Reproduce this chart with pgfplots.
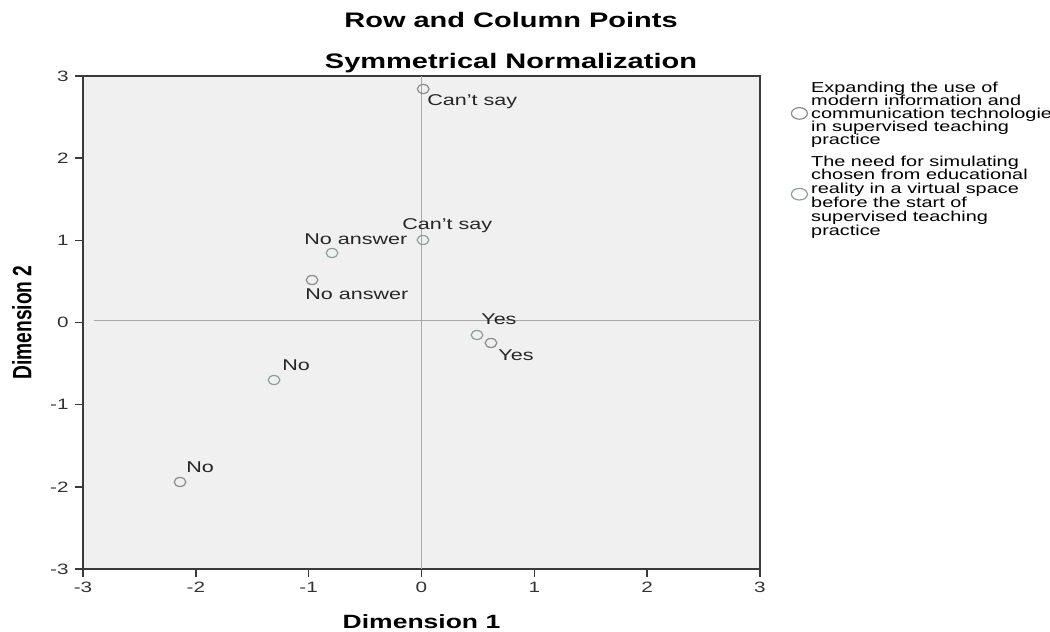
\documentclass[border=0pt]{standalone}
\usepackage{fontspec}
\setmainfont{Liberation Sans}[FakeStretch=1.38]
\newfontfamily\plainfont{Liberation Sans}
\usepackage{graphicx}
\usepackage{pgfplots}
\pgfplotsset{compat=1.18}
\definecolor{bgc}{HTML}{F0F0F0}
\definecolor{framec}{HTML}{3A3A3A}
\definecolor{refc}{HTML}{A8A8A8}
\definecolor{rowc}{HTML}{8C8C8C}
\definecolor{colc}{HTML}{8AA397}
\newcommand\legtext[3]{\raisebox{#1}[0pt][0pt]{\parbox[t]{150pt}{\fontsize{7.2pt}{#2}\selectfont\lineskiplimit=-100pt #3}}}
\begin{document}
\begin{tikzpicture}
\path[use as bounding box] (-41.5pt,-31.5pt) rectangle (483.5pt,284.5pt);
\begin{axis}[
  at={(0pt,0pt)}, anchor=south west,
  scale only axis, width=338.5pt, height=246.5pt,
  xmin=-3, xmax=3, ymin=-3, ymax=3,
  xtick={-3,-2,-1,0,1,2,3}, ytick={-3,-2,-1,0,1,2,3},
  xticklabels={-3,-2,-1,0,1,2,3}, yticklabels={-3,-2,-1,0,1,2,3},
  tick pos=left, tick align=outside, major tick length=4pt,
  tick label style={font=\fontsize{7.5pt}{9pt}\selectfont, text=black!80},
  xticklabel style={inner sep=2.5pt},
  yticklabel style={inner sep=3pt},
  axis background/.style={fill=bgc},
  axis line style={framec, line width=0.8pt},
  tick style={framec, line width=0.7pt},
  clip=false,
  xlabel={Dimension 1},
  xlabel style={at={(axis description cs:0.5,-0.1197)}, anchor=base, font=\fontsize{9.6pt}{11pt}\selectfont\bfseries, inner sep=0pt},
  ylabel={\scalebox{1}[1.38]{Dimension 2}},
  ylabel style={at={(axis description cs:-0.0901,0.5)}, anchor=center, font=\plainfont\bfseries\fontsize{9.6pt}{11pt}\selectfont, inner sep=0pt},
  legend style={at={(axis description cs:1.0464,0.9359)}, anchor=north west, draw=none, fill=none, inner sep=0pt, outer sep=0pt, row sep=34.6pt, column sep=1.9pt, font=\fontsize{7.2pt}{6.3pt}\selectfont, nodes={inner sep=0pt}},
  legend cell align=left,
  legend image code/.code={\draw[#1, mark size=2.9pt, mark options={xscale=1.38, line width=0.6pt}] plot coordinates {(0pt,0pt)};},
]
\addplot[refc, line width=0.6pt, forget plot] coordinates {(0,-3) (0,3)};
\addplot[refc, line width=0.6pt, forget plot] coordinates {(-2.9,0.02) (3,0.02)};

\addplot[only marks, mark=o, color=rowc, mark size=2.25pt, mark options={xscale=1.3, line width=0.6pt}]
  coordinates {(0.015,2.842) (-0.970,0.517) (0.616,-0.249) (-2.140,-1.941)};
\addlegendentry{\legtext{9.65pt}{6.5pt}{Expanding the use of\\modern information and\\communication technologies\\in supervised teaching\\practice}}

\addplot[only marks, mark=o, color=colc, mark size=2.25pt, mark options={xscale=1.3, line width=0.6pt}]
  coordinates {(0.013,1.004) (-0.793,0.846) (0.492,-0.152) (-1.307,-0.700)};
\addlegendentry{\legtext{13.35pt}{6.9pt}{The need for simulating\\chosen from educational\\reality in a virtual space\\before the start of\\supervised teaching\\practice}}

\begin{scope}[every node/.style={font=\fontsize{7.8pt}{9pt}\selectfont, text=black!85, inner sep=0pt, anchor=base west}]
\node at (axis cs:0.049,2.635) {Can't say};
\node at (axis cs:-0.173,1.126) {Can't say};
\node at (axis cs:-1.041,0.955) {No answer};
\node at (axis cs:-1.032,0.274) {No answer};
\node at (axis cs:0.527,-0.030) {Yes};
\node at (axis cs:0.678,-0.468) {Yes};
\node at (axis cs:-1.236,-0.590) {No};
\node at (axis cs:-2.087,-1.831) {No};
\end{scope}

\node[anchor=base, font=\fontsize{10.5pt}{12pt}\selectfont\bfseries, inner sep=0pt] at (axis description cs:0.6322,1.0994) {Row and Column Points};
\node[anchor=base, font=\fontsize{10.5pt}{12pt}\selectfont\bfseries, inner sep=0pt] at (axis description cs:0.6322,1.0142) {Symmetrical Normalization};
\end{axis}
\end{tikzpicture}
\end{document}
